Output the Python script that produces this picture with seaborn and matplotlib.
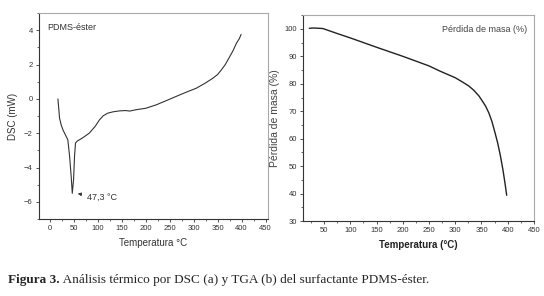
import seaborn as sns
import matplotlib.pyplot as plt
import pandas as pd
from matplotlib.ticker import MultipleLocator

# DSC curve (a)
dsc_temp = [17.4, 20.8, 24, 27.8, 33, 38, 41.7, 45, 47.3, 50, 52, 54, 58, 62.5, 70, 83,
            95, 104, 112, 121.5, 133, 146, 158, 167, 180.6, 200, 222, 245, 271, 290,
            305.6, 322, 340, 350, 357.6, 366, 375, 382, 389, 395, 399]
dsc_val = [0.0, -1.12, -1.5, -1.8, -2.1, -2.38, -3.34, -4.5, -5.5, -4.7, -3.34, -2.57, -2.45,
           -2.38, -2.25, -1.99, -1.6, -1.22, -0.98, -0.83, -0.75, -0.7, -0.68, -0.71, -0.63,
           -0.55, -0.35, -0.08, 0.23, 0.45, 0.62, 0.88, 1.2, 1.42, 1.68, 2.0, 2.45, 2.8, 3.23,
           3.5, 3.75]

# TGA curve (b)
tga_temp = [22, 30, 40, 48, 75, 100, 150, 200, 250, 271, 300, 315, 325, 335, 345, 352,
            358, 364, 370, 376, 381, 386, 391, 395, 398]
tga_val = [100.2, 100.3, 100.2, 100.1, 98.3, 96.7, 93.3, 90.0, 86.5, 84.6, 82.2, 80.5, 79.3,
           77.7, 75.6, 73.6, 71.8, 69.4, 66.2, 62.0, 58.3, 53.8, 48.5, 43.5, 39.4]

dsc = pd.DataFrame({"T": dsc_temp, "v": dsc_val})
tga = pd.DataFrame({"T": tga_temp, "v": tga_val})

sns.set_theme(style="ticks")
plt.rcParams["font.family"] = ["Liberation Sans", "DejaVu Sans"]

fig = plt.figure(figsize=(5.44, 2.96), dpi=100)
ax1 = fig.add_axes([0.0717, 0.260, 0.421, 0.696])
ax2 = fig.add_axes([0.557, 0.253, 0.4246, 0.696])

sns.lineplot(data=dsc, x="T", y="v", ax=ax1, color="#333333", lw=0.8, sort=False)
sns.lineplot(data=tga, x="T", y="v", ax=ax2, color="#222222", lw=1.0, sort=False)

ax1.set_xlim(-22, 455)
ax1.set_ylim(-7, 5)
ax1.xaxis.set_major_locator(MultipleLocator(50))
ax1.xaxis.set_minor_locator(MultipleLocator(25))
ax1.yaxis.set_major_locator(MultipleLocator(2))
ax1.yaxis.set_minor_locator(MultipleLocator(1))
ax1.set_xlabel("Temperatura °C", fontsize=7, color="#333333")
ax1.set_ylabel("DSC (mW)", fontsize=7, color="#333333")
ax1.text(0.034, 0.95, "PDMS-éster", transform=ax1.transAxes, fontsize=6.5,
         va="top", color="#333333")
ax1.annotate("47,3 °C", xy=(53, -5.5), xytext=(79, -5.75), fontsize=6.5,
             color="#333333", va="center",
             arrowprops=dict(arrowstyle="-|>", color="#333333", lw=0.6,
                             mutation_scale=5))

ax2.set_xlim(10, 450)
ax2.set_ylim(30, 105)
ax2.xaxis.set_major_locator(MultipleLocator(50))
ax2.xaxis.set_minor_locator(MultipleLocator(25))
ax2.yaxis.set_major_locator(MultipleLocator(10))
ax2.yaxis.set_minor_locator(MultipleLocator(5))
ax2.set_xlabel("Temperatura (°C)", fontsize=7, fontweight="bold", color="#222222")
ax2.set_ylabel("Pérdida de masa (%)", fontsize=7.5, color="#444444", labelpad=3)
ax2.text(0.97, 0.95, "Pérdida de masa (%)", transform=ax2.transAxes, fontsize=6.5,
         ha="right", va="top", color="#444444")

for ax in (ax1, ax2):
    for s in ax.spines.values():
        s.set_visible(True)
        s.set_color("#aaaaaa")
        s.set_linewidth(0.8)
    ax.spines["left"].set_color("#333333")
    ax.spines["bottom"].set_color("#333333")
    ax.tick_params(which="major", labelsize=5.5, length=2.5, width=0.6,
                   colors="#333333", pad=2)
    ax.tick_params(which="minor", length=1.5, width=0.5, colors="#333333")

t1 = fig.text(0.015, 0.055, "Figura 3.", fontsize=9.5, fontweight="bold",
              family="Liberation Serif", va="center")
ax1.annotate(" Análisis térmico por DSC (a) y TGA (b) del surfactante PDMS-éster.",
             xy=(1, 0.5), xycoords=t1, va="center", fontsize=9.5,
             family="Liberation Serif", annotation_clip=False)

fig.savefig("out.png", dpi=100)
